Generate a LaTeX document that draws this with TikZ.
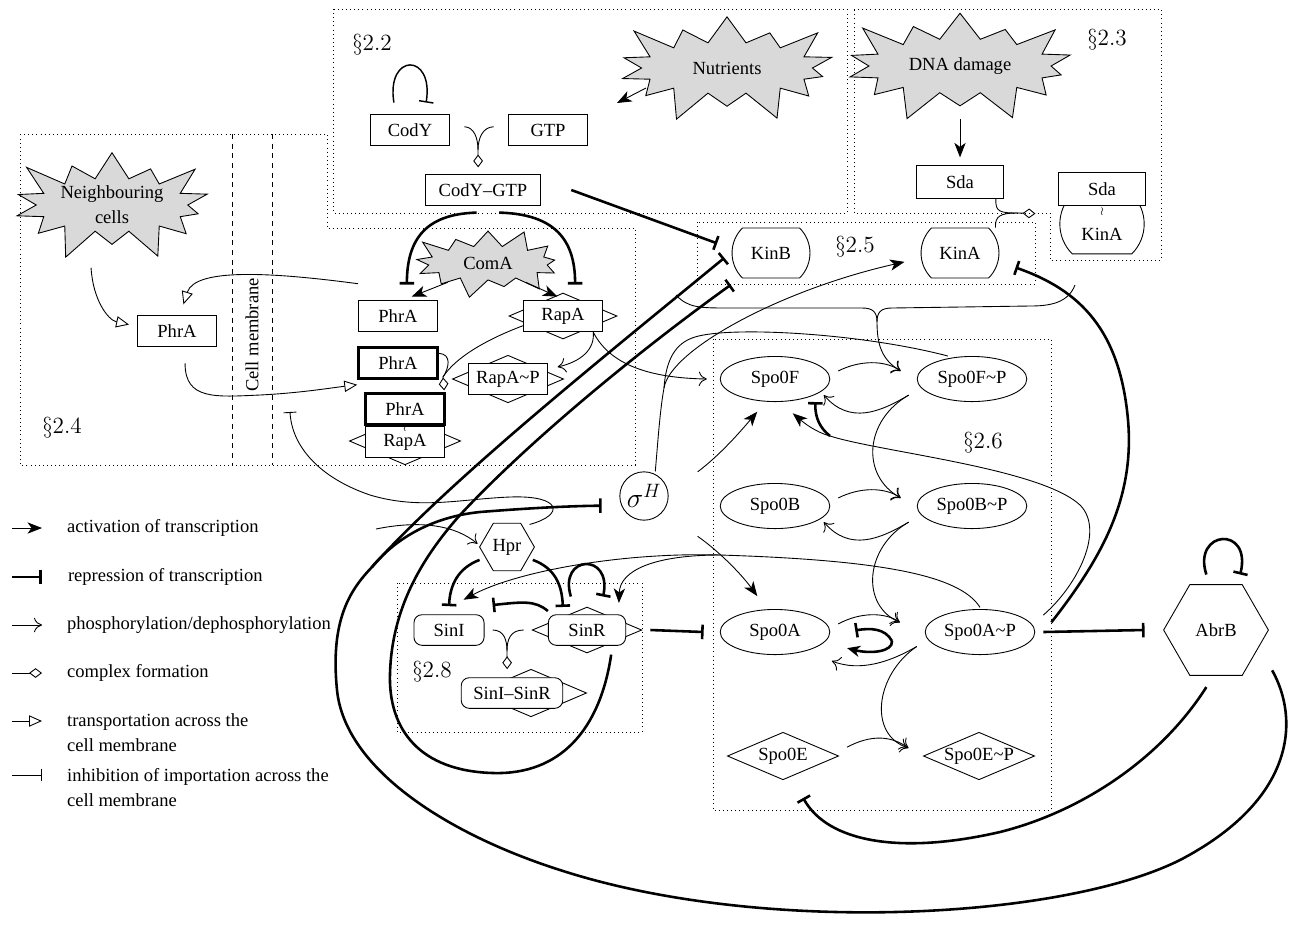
\documentclass[tikz,border=0pt]{standalone}
\usepackage{amsmath}
\usepackage{amssymb}
\usepackage[no-math]{fontspec}
\setmainfont{Liberation Serif}
\usepackage{tikz}
\usetikzlibrary{arrows.meta,shapes.geometric,shapes.symbols,shapes.misc}

\begin{document}
\begin{tikzpicture}[x=0.0218cm, y=-0.0218cm, line width=0.55pt,
    font=\fontsize{11.5}{15.5}\selectfont,
    box/.style={draw, rectangle, minimum width=49pt, minimum height=19.5pt, inner sep=1pt},
    hbox/.style={box, line width=1.6pt},
    rbox/.style={draw, rectangle, rounded corners=5pt, minimum height=19pt, inner sep=1pt},
    kin/.style={draw, rounded rectangle, rounded rectangle arc length=90, minimum width=55pt, minimum height=31pt},
    spo/.style={draw, ellipse, minimum width=68pt, minimum height=28pt, inner sep=0pt},
    dia/.style={draw, diamond, aspect=2.4, inner sep=0pt, minimum width=69pt, minimum height=29.5pt},
    hexa/.style={draw, regular polygon, regular polygon sides=6, inner sep=0pt},
    burst/.style={draw, starburst, fill=gray!30, starburst points=14, starburst point height=22pt, inner sep=0pt, align=center},
    wavy/.style={font=\scriptsize, inner sep=0pt},
    sect/.style={font=\Large},
    legend/.style={anchor=west, align=left},
    activ/.style={-{Stealth[length=9pt,width=7pt,inset=2.5pt]}},
    tactiv/.style={line width=1.6pt,-{Stealth[length=8pt,width=7pt,inset=2.5pt]}},
    repr/.style={line width=1.6pt,-{Bar[width=9pt]}},
    phos/.style={-{Computer Modern Rightarrow[length=5pt,width=9pt]}},
    cplx/.style={-{Diamond[open,length=8pt,width=6pt]}},
    trans/.style={-{Triangle[open,length=8pt,width=7pt]}},
    inhib/.style={-{Bar[width=8pt]}}]
    \useasboundingbox (0,0) rectangle (1296,926);

    \draw [dotted] (333,9) rectangle (847,213);
    \draw [dotted] (854,9) -- (1161,9) -- (1161,260) -- (1050,260) -- (1050,213) -- (854,213) -- cycle;
    \draw [dotted] (20,134) -- (327,134) -- (327,228) -- (635,228) -- (635,465) -- (20,465) -- cycle;
    \draw [dotted] (697,222) rectangle (1035,284);
    \draw [dotted] (713,339) rectangle (1051,810);
    \draw [dotted] (397,583) rectangle (642,732);
    \draw [dashed] (232,134) -- (232,465);
    \draw [dashed] (272,134) -- (272,465);

    \node [sect] (s22) at (372,45) {$\S2.2$};
    \node [sect] (s23) at (1107,40) {$\S2.3$};
    \node [sect] (s24) at (62,428) {$\S2.4$};
    \node [sect] (s25) at (855,247) {$\S2.5$};
    \node [sect] (s26) at (983,443) {$\S2.6$};
    \node [sect] (s28) at (432,672) {$\S2.8$};

    \node [box] (cody) at (410,130) {CodY};
    \node [box] (gtp) at (548,130) {GTP};
    \node [box, minimum width=71pt] (codygtp) at (483,190) {CodY--GTP};
    \node [burst, minimum width=150pt, minimum height=76pt] (nutr) at (727,68) {Nutrients};

    \node [burst, minimum width=157pt, minimum height=78pt] (dna) at (960,66) {DNA damage};
    \node [box, minimum width=54pt, minimum height=20pt] (sda) at (960,182) {Sda};
    \node [kin, minimum width=54pt, minimum height=37pt] (sdakina) at (1102,224) {};
    \node [box, fill=white, minimum width=54pt, minimum height=20pt] (sdac) at (1102,189) {Sda};
    \node [wavy] (sdawr) at (1102,212) {$\wr$};
    \node (kinac) at (1102,234) {KinA};

    \node [burst, minimum width=138pt, minimum height=70pt] (neigh) at (112,205) {Neighbouring\\cells};
    \node [box] (phrao) at (177,331) {PhrA};
    \node [rotate=90] (membr) at (252,335) {Cell membrane};
    \node [box] (phrai) at (398,316) {PhrA};
    \node [burst, minimum width=100pt, minimum height=47pt, starburst points=13, starburst point height=13pt] (coma) at (488,263) {ComA};
    \node [dia, minimum width=67pt, minimum height=28.5pt] (rapad) at (563,316) {};
    \node [box, fill=white] (rapa) at (563,316) {RapA};
    \node [hbox] (phrab) at (398,363) {PhrA};
    \node [dia] (rapapd) at (508,379) {};
    \node [box, fill=white] (rapap) at (508,379) {RapA\textasciitilde P};
    \node [dia] (cpxd) at (405,441) {};
    \node [box, fill=white] (cpxr) at (405,442) {RapA};
    \node [hbox, fill=white] (cpxp) at (405,409) {PhrA};
    \node [wavy] (cpxwr) at (405,428) {$\wr$};

    \node [kin] (kinb) at (771,253) {KinB};
    \node [kin] (kina) at (960,253) {KinA};

    \node [spo] (spof) at (775,379) {Spo0F};
    \node [spo] (spofp) at (972,379) {Spo0F\textasciitilde P};
    \node [spo] (spob) at (775,506) {Spo0B};
    \node [spo] (spobp) at (972,506) {Spo0B\textasciitilde P};
    \node [spo] (spoa) at (775,632) {Spo0A};
    \node [spo] (spoap) at (980,632) {Spo0A\textasciitilde P};
    \node [dia] (spoe) at (783,756) {Spo0E};
    \node [dia] (spoep) at (979,756) {Spo0E\textasciitilde P};

    \node [draw, circle, minimum size=30pt, inner sep=0pt, font=\LARGE] (sigma) at (644,496) {$\sigma^H$};
    \node [hexa, minimum size=34pt] (hpr) at (507,547) {Hpr};
    \node [hexa, minimum size=65pt] (abrb) at (1216,630) {AbrB};

    \node [rbox, minimum width=43.5pt] (sini) at (449,630) {SinI};
    \node [dia, minimum width=68pt, minimum height=28.5pt] (sinrd) at (587,630) {};
    \node [rbox, fill=white, minimum width=48pt] (sinr) at (587,630) {SinR};
    \node [dia] (sinsd) at (531,693) {};
    \node [rbox, fill=white, minimum width=63pt] (sins) at (512,693) {SinI--SinR};

    \draw [repr, line width=0.9pt] ([xshift=-10pt,yshift=7pt]cody.north) .. controls +(-8,-50) and +(8,-50) .. ([xshift=10pt,yshift=7pt]cody.north);
    \coordinate (cgm) at (478,150);
    \draw ([xshift=9pt,yshift=2pt]cody.east) .. controls (474,127) and (478,138) .. (cgm);
    \draw ([xshift=-9pt,yshift=2pt]gtp.west) .. controls (483,127) and (478,138) .. (cgm);
    \draw [cplx] (cgm) to ([xshift=-3pt,yshift=4pt]codygtp.north);
    \coordinate (nutrs) at (646,88);
    \coordinate (nutre) at (617,103);
    \draw [activ] (nutrs) to (nutre);
    \draw [repr] ([xshift=19pt]codygtp.east) to ([xshift=-9pt,yshift=6pt]kinb.west);
    \draw [repr] ([xshift=-4pt,yshift=-4pt]codygtp.south) .. controls (425,214) and (407,240) .. ([xshift=5.5pt,yshift=9.5pt]phrai.north);
    \draw [repr] ([xshift=10pt,yshift=-4pt]codygtp.south) .. controls (555,214) and (575,240) .. ([xshift=7.5pt,yshift=9.5pt]rapa.north);
    \draw [activ] ([xshift=-25pt,yshift=-12pt]coma.center) to ([xshift=8.5pt,yshift=2pt]phrai.north);
    \draw [activ] ([xshift=23.5pt,yshift=-12pt]coma.center) to ([xshift=-3.5pt,yshift=2pt]rapa.north);

    \draw [activ, shorten >=5pt] ([yshift=-33pt]dna.center) to (sda.north);
    \coordinate (skm) at (1018,213);
    \draw ([xshift=-5pt]sda.south east) .. controls (995,212) and (1000,213) .. (skm);
    \draw ([xshift=22pt]kina.north) .. controls (995,216) and (1000,213) .. (skm);
    \draw [cplx] (skm) to ([xshift=-14pt,yshift=-5pt]sdac.south west);

    \draw [trans] ([xshift=-13pt,yshift=-39pt]neigh.center) .. controls (93,300) and (108,320) .. ([xshift=-5pt,yshift=4pt]phrao.west);
    \draw [trans] ([yshift=10pt]phrai.north west) .. controls (270,272) and (195,268) .. ([xshift=4pt,yshift=6.5pt]phrao.north);
    \draw [trans] ([xshift=5pt,yshift=-10pt]phrao.south) .. controls (185,400) and (215,397) .. (260,395) .. controls (300,393) and (330,388) .. ([yshift=-13.5pt]phrab.west);
    \coordinate (prm) at (443,377);
    \draw ([yshift=-6pt]rapa.west) .. controls (485,340) and (455,358) .. (prm);
    \draw ([yshift=6pt]phrab.east) .. controls (452,354) and (449,368) .. (prm);
    \draw [cplx] (prm) to ([xshift=-1pt,yshift=1pt]cpxp.north east);
    \draw [phos] ([xshift=-6pt]rapa.south east) .. controls (595,350) and (580,362) .. ([xshift=6pt,yshift=7.5pt]rapap.east);
    \draw [phos] ([xshift=-6pt]rapa.south east) .. controls (610,365) and (650,378) .. ([xshift=-8pt]spof.west);

    \coordinate (membri) at (290,412);
    \draw [inhib] ([xshift=14pt,yshift=14pt]hpr.center) .. controls (565,515) and (562,495) .. (510,497) .. controls (460,499) and (420,510) .. (370,495) .. controls (320,478) and (292,447) .. (membri);
    \coordinate (hprin) at (376,529);
    \draw [phos] (hprin) .. controls (420,520) and (455,525) .. ([xshift=-1pt,yshift=2pt]hpr.west);

    \coordinate (abrbj) at (372,567);
    \draw [repr] ([xshift=2pt,yshift=-25pt]abrb.east) .. controls (1300,720) and (1295,800) .. (1180,860) .. controls (1060,920) and (760,935) .. (560,870) .. controls (450,835) and (345,770) .. (337,690) .. controls (330,620) and (350,590) .. (abrbj) .. controls (450,480) and (600,360) .. ([xshift=-4.5pt,yshift=-3pt]kinb.west);
    \draw [repr] (abrbj) .. controls (400,533) and (440,516) .. (480,512) .. controls (530,508) and (570,506) .. ([xshift=-11pt,yshift=-6pt]sigma.west);
    \draw [repr] ([xshift=15pt,yshift=-5.5pt]sinr.south) .. controls (600,730) and (560,775) .. (493,773) .. controls (420,771) and (388,730) .. (390,673) .. controls (392,610) and (420,560) .. (460,515) .. controls (530,440) and (640,350) .. ([xshift=-25pt,yshift=-4pt]kinb.south);
    \draw [repr] ([xshift=10pt,yshift=6pt]spoap.east) .. controls (1100,560) and (1135,500) .. (1128,420) .. controls (1120,330) and (1080,290) .. ([xshift=10pt,yshift=-9pt]kina.east);

    \coordinate (bracel) at (676,295);
    \coordinate (bracer) at (1075,285);
    \coordinate (bracec) at (877,322);
    \draw (bracel) .. controls (688,308) and (700,308) .. (730,308) -- (862,308) .. controls (873,308) and (877,312) .. (bracec);
    \draw (bracer) .. controls (1068,303) and (1050,306) .. (1030,306) -- (892,308) .. controls (881,308) and (877,312) .. (bracec);
    \draw [phos] (bracec) .. controls (877,345) and (882,360) .. ([xshift=-10pt,yshift=5pt]spofp.west);

    \draw [phos] ([xshift=5pt,yshift=5pt]spof.east) .. controls (860,360) and (885,360) .. ([xshift=-10pt,yshift=5pt]spofp.west);
    \draw [phos] ([xshift=-5pt,yshift=-10pt]spofp.west) .. controls (880,412) and (850,425) .. ([xshift=-4pt,yshift=-10pt]spof.east);
    \draw [phos] ([xshift=-5pt,yshift=-10pt]spofp.west) .. controls (865,420) and (860,475) .. ([xshift=-10pt,yshift=5pt]spobp.west);
    \draw [phos] ([xshift=5pt,yshift=5pt]spob.east) .. controls (860,487) and (885,487) .. ([xshift=-10pt,yshift=5pt]spobp.west);
    \draw [phos] ([xshift=-5pt,yshift=-10pt]spobp.west) .. controls (880,539) and (850,552) .. ([xshift=-4pt,yshift=-10pt]spob.east);
    \draw [phos] ([xshift=-5pt,yshift=-10pt]spobp.west) .. controls (865,547) and (860,605) .. ([xshift=-15.5pt,yshift=6pt]spoap.west);
    \draw [phos] ([xshift=5pt,yshift=5pt]spoa.east) .. controls (860,612) and (885,612) .. ([xshift=-15.5pt,yshift=6pt]spoap.west);
    \draw [phos] ([xshift=-5pt,yshift=-9pt]spoap.west) .. controls (890,662) and (860,672) .. ([xshift=1pt,yshift=-18pt]spoa.east);
    \draw [phos] ([xshift=-5pt,yshift=-9pt]spoap.west) .. controls (875,675) and (868,735) .. ([xshift=-9pt,yshift=5pt]spoep.west);
    \draw [phos] ([xshift=5pt,yshift=5.5pt]spoe.east) .. controls (870,735) and (890,735) .. ([xshift=-9pt,yshift=5pt]spoep.west);

    \coordinate (sfr) at (830,436);
    \draw [activ] ([xshift=5pt,yshift=10.5pt]spoap.east) .. controls (1078,585) and (1105,530) .. (1080,505) .. controls (1040,468) and (880,452) .. (sfr) .. controls (815,432) and (803,422) .. ([xshift=11pt,yshift=-7pt]spof.south);
    \draw [repr] (sfr) .. controls (820,428) and (815,418) .. ([xshift=25pt]spof.south);
    \draw [activ] ([xshift=18pt,yshift=15pt]sigma.east) .. controls (720,455) and (740,432) .. ([xshift=-11pt,yshift=-6pt]spof.south);
    \draw [activ] ([xshift=18pt,yshift=-25pt]sigma.east) .. controls (720,552) and (742,575) .. ([xshift=-11pt,yshift=8pt]spoa.north);
    \coordinate (sigj) at (664,388);
    \draw [activ] ([xshift=7pt]sigma.north) .. controls (658,440) and (660,410) .. (sigj) .. controls (670,350) and (780,290) .. ([xshift=-10pt,yshift=-5.5pt]kina.west);
    \draw ([xshift=-15pt]spofp.north) .. controls (860,333) and (730,326) .. (695,337) .. controls (675,343) and (666,360) .. (sigj);

    \draw [repr] ([xshift=-17pt,yshift=-8pt]hpr.center) .. controls (458,568) and (450,585) .. ([yshift=5pt]sini.north);
    \draw [repr] ([xshift=16pt,yshift=-8pt]hpr.center) .. controls (555,568) and (562,585) .. ([xshift=-15pt,yshift=4.5pt]sinr.north);
    \draw [repr] ([xshift=-10pt,yshift=11pt]sinr.north) .. controls (558,555) and (612,552) .. ([xshift=10pt,yshift=11pt]sinr.north);
    \draw [repr] ([yshift=2pt]sinr.north west) .. controls (535,600) and (522,602) .. ([xshift=5pt,yshift=15.5pt]sini.east);
    \coordinate (sism) at (507,651);
    \draw ([xshift=5pt]sini.east) .. controls (504,630) and (507,640) .. (sism);
    \draw ([xshift=-5pt]sinrd.west) .. controls (510,630) and (507,640) .. (sism);
    \draw [cplx] (sism) to ([xshift=-3pt,yshift=5pt]sins.north);
    \draw [repr] ([xshift=5pt]sinrd.east) to ([xshift=-10pt]spoa.west);
    \draw [repr] ([xshift=5pt]spoap.east) to ([xshift=-11.5pt]abrb.west);
    \draw [repr] ([xshift=-6pt,yshift=6pt]abrb.north) .. controls (1192,530) and (1252,525) .. ([xshift=15pt,yshift=6pt]abrb.north);
    \draw [repr] ([xshift=-6pt,yshift=-7pt]abrb.south) .. controls (1160,760) and (1080,812) .. (1000,832) .. controls (900,855) and (828,842) .. ([xshift=12.5pt,yshift=-11pt]spoe.south);

    \coordinate (spoaj) at (892,641);
    \draw [repr] (spoaj) .. controls (885,628) and (870,628) .. ([xshift=15.5pt,yshift=1pt]spoa.east);
    \draw [tactiv] (spoaj) .. controls (893,652) and (870,654) .. ([xshift=10.5pt,yshift=-10pt]spoa.east);
    \coordinate (sinj) at (720,555);
    \draw [activ] ([yshift=1pt]spoap.north) .. controls (960,575) and (880,560) .. (sinj) .. controls (620,552) and (515,572) .. ([xshift=-13pt,yshift=9pt]sini.north east);
    \draw [activ] (sinj) .. controls (655,555) and (620,570) .. ([xshift=-4.5pt,yshift=7pt]sinr.north east);

    \coordinate (lg1) at (12,528);
    \coordinate (lg2) at (12,577);
    \coordinate (lg3) at (12,625);
    \coordinate (lg4) at (12,673);
    \coordinate (lg5) at (12,721);
    \coordinate (lg6) at (12,775);
    \draw [activ] (lg1) -- ++(30,0) node [legend, xshift=12pt] (lt1) {activation of transcription};
    \draw [repr] (lg2) -- ++(30,0) node [legend, xshift=12pt] (lt2) {repression of transcription};
    \draw [phos] (lg3) -- ++(30,0) node [legend, xshift=12pt] (lt3) {phosphorylation/dephosphorylation};
    \draw [cplx] (lg4) -- ++(30,0) node [legend, xshift=12pt] (lt4) {complex formation};
    \draw [trans] (lg5) -- ++(30,0) node [legend, xshift=12pt, yshift=-7.5pt] (lt5) {transportation across the\\cell membrane};
    \draw [inhib] (lg6) -- ++(30,0) node [legend, xshift=12pt, yshift=-7.5pt] (lt6) {inhibition of importation across the\\cell membrane};
\end{tikzpicture}
\end{document}
